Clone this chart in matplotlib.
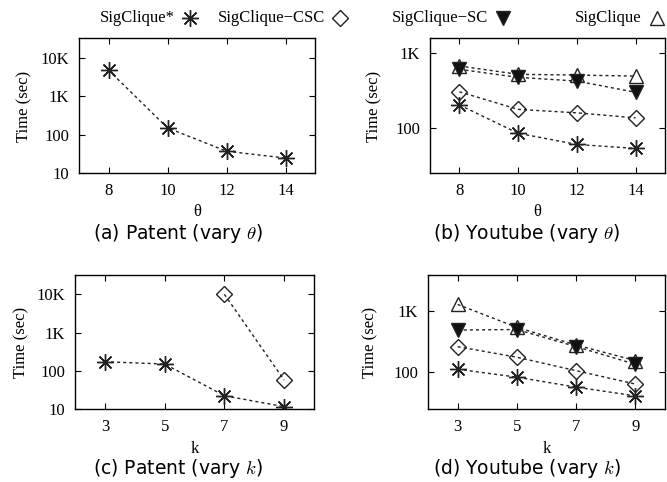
import matplotlib
matplotlib.use("Agg")
import matplotlib.pyplot as plt
from matplotlib.lines import Line2D

plt.rcParams['font.family'] = ['Liberation Serif', 'DejaVu Serif']
plt.rcParams['mathtext.fontset'] = 'cm'

# Data
theta = [8, 10, 12, 14]
k_vals = [3, 5, 7, 9]

# (a) Patent, vary theta
patent_theta_star = [4800, 150, 37, 24.5]

# (b) Youtube, vary theta
yt_theta_star = [205, 86, 61, 54]
yt_theta_csc = [307, 179, 161, 138]
yt_theta_sc = [612, 478, 427, 302]
yt_theta_sig = [677, 525, 513, 497]

# (c) Patent, vary k  (CSC only finishes for k=7,9)
patent_k_star = [172, 150, 22.3, 11.5]
patent_k_csc_x = [7, 9]
patent_k_csc = [10000, 57]

# (d) Youtube, vary k
yt_k_star = [112, 83, 57, 41]
yt_k_csc = [262, 176, 106, 64]
yt_k_sc = [490, 500, 262, 135]
yt_k_sig = [1286, 542, 279, 155]

names = ['SigClique*', 'SigClique\u2212CSC', 'SigClique\u2212SC', 'SigClique']

STAR = dict(marker=(8, 2, 0), markersize=12, markeredgewidth=1.0, color='#222222', mfc='none')
DIAM = dict(marker='D', markersize=8.5, markeredgewidth=1.0, color='#222222', mfc='none')
DTRI = dict(marker='v', markersize=10, markeredgewidth=1.0, color='#222222', mfc='#111111')
UTRI = dict(marker='^', markersize=10.5, markeredgewidth=1.0, color='#222222', mfc='none')
LINE = dict(linestyle=(0, (2.2, 2.2)), linewidth=1.0)

fig = plt.figure(figsize=(6.67, 4.82), dpi=100)

def box(l, r, t, b):
    W, H = 667.0, 482.0
    return [l / W, 1 - b / H, (r - l) / W, (b - t) / H]

def style(ax):
    ax.tick_params(which='both', direction='in', top=True, right=True, labelsize=12,
                   length=4, width=0.8, pad=7)
    ax.minorticks_off()
    for s in ax.spines.values():
        s.set_linewidth(1.0)

# (a)
ax_a = fig.add_axes(box(79, 315, 38, 173))
ax_a.plot(theta, patent_theta_star, **STAR, **LINE)
ax_a.set_yscale('log')
ax_a.set_ylim(10, 33000)
ax_a.set_xlim(7, 15)
ax_a.set_xticks(theta)
ax_a.set_yticks([10, 100, 1000, 10000])
ax_a.set_yticklabels(['10', '100', '1K', '10K'])
style(ax_a)

# (b)
ax_b = fig.add_axes(box(430, 665, 38, 173))
ax_b.plot(theta, yt_theta_sig, **UTRI, **LINE)
ax_b.plot(theta, yt_theta_sc, **DTRI, **LINE)
ax_b.plot(theta, yt_theta_csc, **DIAM, **LINE)
ax_b.plot(theta, yt_theta_star, **STAR, **LINE)
ax_b.set_yscale('log')
ax_b.set_ylim(25.4, 1600)
ax_b.set_xlim(7, 15)
ax_b.set_xticks(theta)
ax_b.set_yticks([100, 1000])
ax_b.set_yticklabels(['100', '1K'])
style(ax_b)

# (c)
ax_c = fig.add_axes(box(75, 314, 275, 409))
ax_c.plot(k_vals, patent_k_star, **STAR, **LINE)
ax_c.plot(patent_k_csc_x, patent_k_csc, **DIAM, **LINE)
ax_c.set_yscale('log')
ax_c.set_ylim(10, 32000)
ax_c.set_xlim(2, 10)
ax_c.set_xticks(k_vals)
ax_c.set_yticks([10, 100, 1000, 10000])
ax_c.set_yticklabels(['10', '100', '1K', '10K'])
style(ax_c)

# (d)
ax_d = fig.add_axes(box(428, 665, 275, 409))
ax_d.plot(k_vals, yt_k_sig, **UTRI, **LINE)
ax_d.plot(k_vals, yt_k_sc, **DTRI, **LINE)
ax_d.plot(k_vals, yt_k_csc, **DIAM, **LINE)
ax_d.plot(k_vals, yt_k_star, **STAR, **LINE)
ax_d.set_yscale('log')
ax_d.set_ylim(25, 3900)
ax_d.set_xlim(2, 10)
ax_d.set_xticks(k_vals)
ax_d.set_yticks([100, 1000])
ax_d.set_yticklabels(['100', '1K'])
style(ax_d)

# axis labels and captions
def ftext(x, y, s, **kw):
    fig.text(x / 667.0, 1 - y / 482.0, s, ha='center', va='center', **kw)

for x in (24, 374):
    ftext(x, 106, 'Time (sec)', rotation=90, fontsize=12)
for x in (21, 370):
    ftext(x, 342, 'Time (sec)', rotation=90, fontsize=12)

ftext(197, 212, '\u03b8', fontsize=12)
ftext(537, 212, '\u03b8', fontsize=12)
ftext(195, 449, 'k', fontsize=12)
ftext(547, 449, 'k', fontsize=12)

cap = dict(fontsize=13.5, family='DejaVu Sans')
ftext(178, 233, r'(a) Patent (vary $\theta$)', **cap)
ftext(527, 233, r'(b) Youtube (vary $\theta$)', **cap)
ftext(178, 469, r'(c) Patent (vary $k$)', **cap)
ftext(527, 469, r'(d) Youtube (vary $k$)', **cap)

# legend row along the top
leg_marker_x = [190, 340, 503, 657]
leg_styles = [STAR, DIAM, DTRI, UTRI]
for name, mx, st in zip(names, leg_marker_x, leg_styles):
    fig.text((mx - 15) / 667.0, 1 - 18 / 482.0, name, ha='right', va='center', fontsize=12)
    fig.add_artist(Line2D([mx / 667.0], [1 - 18 / 482.0], linestyle='none', **st))

fig.savefig('out.png', dpi=100)
